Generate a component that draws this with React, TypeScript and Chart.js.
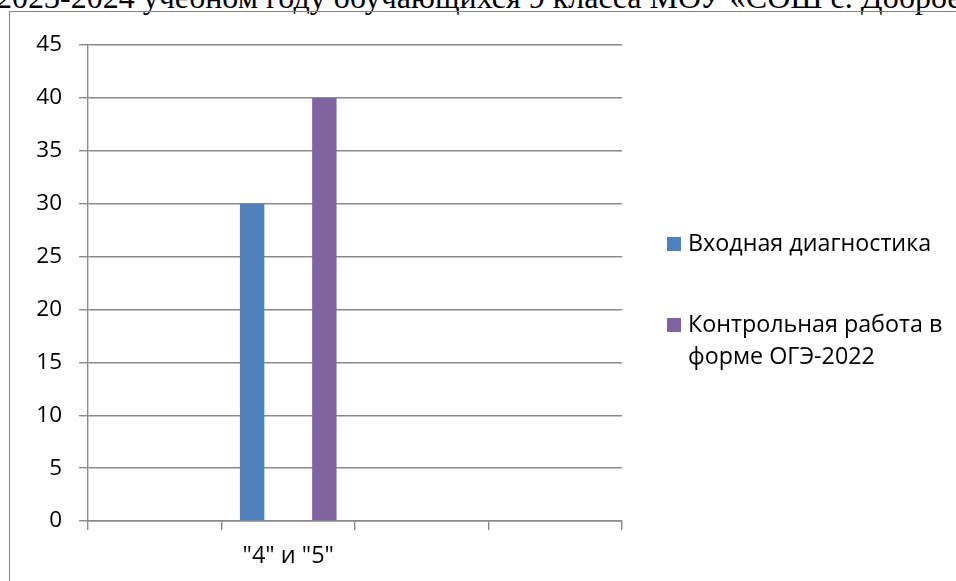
import React, { useEffect, useRef } from "react";
import { Chart, registerables } from "chart.js";

Chart.register(...registerables);

const titleText = "2023-2024 учебном году обучающихся 9 класса МОУ «СОШ с. Доброе»";
const categories = ["", '"4" и "5"', "", ""];
const seriesNames = ["Входная диагностика", "Контрольная работа в форме ОГЭ-2022"];
const entryValues: (number | null)[] = [null, 30, null, null];
const ogeValues: (number | null)[] = [null, 40, null, null];
const seriesColors = ["#4F81BD", "#8064A2"];
const yMin = 0;
const yMax = 45;
const yStep = 5;

const FONT = '"Open Sans", "Noto Sans", sans-serif';
const GRID = "#8a8a8a";

function wrapText(ctx: CanvasRenderingContext2D, text: string, maxW: number): string[] {
  const words = text.split(" ");
  const lines: string[] = [];
  let cur = "";
  for (const w of words) {
    const test = cur ? cur + " " + w : w;
    if (ctx.measureText(test).width > maxW && cur) {
      lines.push(cur);
      cur = w;
    } else {
      cur = test;
    }
  }
  if (cur) lines.push(cur);
  return lines;
}

const sideLegend = {
  id: "sideLegend",
  afterDraw(chart: any) {
    const ctx = chart.ctx as CanvasRenderingContext2D;
    const ca = chart.chartArea;
    ctx.save();
    ctx.font = `23.3px ${FONT}`;
    ctx.textBaseline = "middle";
    ctx.textAlign = "left";
    const x0 = ca.right + 45;
    const textX = x0 + 21;
    const maxW = 264;
    const lineH = 32;
    let y = ca.top + 199;
    chart.data.datasets.forEach((ds: any) => {
      const lines = wrapText(ctx, ds.label, maxW);
      ctx.fillStyle = ds.backgroundColor;
      ctx.fillRect(x0, y - 7, 14, 14);
      ctx.fillStyle = "#000";
      lines.forEach((l, j) => ctx.fillText(l, textX, y + j * lineH));
      y += (lines.length - 1) * lineH + 81;
    });
    ctx.restore();
  },
};

export default function App() {
  const ref = useRef<HTMLCanvasElement | null>(null);
  useEffect(() => {
    if (!ref.current) return;
    const chart = new Chart(ref.current, {
      type: "bar",
      data: {
        labels: categories,
        datasets: [
          { label: seriesNames[0], data: entryValues, backgroundColor: seriesColors[0] },
          { label: seriesNames[1], data: ogeValues, backgroundColor: seriesColors[1] },
        ],
      },
      options: {
        responsive: false,
        animation: false,
        devicePixelRatio: 1,
        layout: { padding: { top: 33, right: 334, left: 0, bottom: 0 } },
        datasets: { bar: { categoryPercentage: 1.082, barPercentage: 0.338 } },
        plugins: { legend: { display: false }, tooltip: { enabled: false }, title: { display: false } },
        scales: {
          x: {
            afterFit: (s: any) => { s.height = 60; },
            grid: { offset: true, drawOnChartArea: false, drawTicks: true, tickLength: 9, color: GRID, lineWidth: 1.4 },
            border: { display: true, color: GRID, width: 1.4 },
            ticks: { color: "#000", font: { family: FONT, size: 23.5 }, padding: 12, maxRotation: 0, autoSkip: false },
          },
          y: {
            min: yMin,
            max: yMax,
            afterFit: (s: any) => { s.width = 78; },
            grid: { drawTicks: true, tickLength: 9, color: GRID, lineWidth: 1.4 },
            border: { display: true, color: GRID, width: 1.4 },
            ticks: { stepSize: yStep, color: "#000", font: { family: FONT, size: 22.5 }, padding: 17 },
          },
        },
      },
      plugins: [sideLegend],
    } as any);
    return () => chart.destroy();
  }, []);

  return (
    <div style={{ position: "fixed", left: 0, top: 0, width: 956, height: 581, overflow: "hidden", background: "#fff" }}>
      <div
        style={{
          position: "absolute",
          left: -4,
          top: -19,
          fontFamily: '"Liberation Serif", "Times New Roman", serif',
          fontSize: 32,
          lineHeight: "32px",
          whiteSpace: "nowrap",
          color: "#000",
        }}
      >
        {titleText}
      </div>
      <div
        style={{
          position: "absolute",
          left: 9,
          top: 11,
          width: 1000,
          height: 700,
          borderLeft: "1px solid #858585",
          borderTop: "1px solid #858585",
        }}
      />
      <canvas ref={ref} width={946} height={569} style={{ position: "absolute", left: 10, top: 12, width: 946, height: 569 }} />
    </div>
  );
}
